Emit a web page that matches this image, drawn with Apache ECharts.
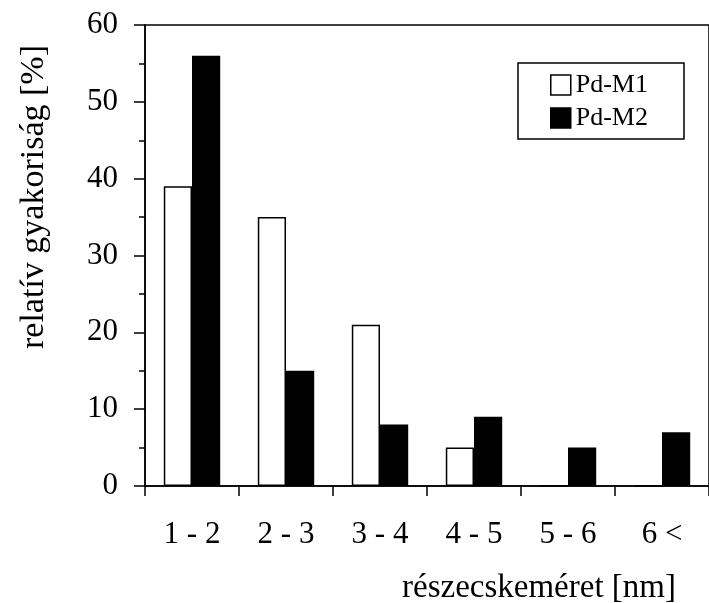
<!DOCTYPE html>
<html>
<head>
<meta charset="utf-8">
<title>Pd-M1 / Pd-M2 részecskeméret-eloszlás</title>
<script src="https://cdn.jsdelivr.net/npm/echarts@6/dist/echarts.min.js"></script>
<style>
  html, body { margin: 0; padding: 0; background: #fff; }
  #chart { width: 709px; height: 603px; }
</style>
</head>
<body>
<div id="chart"></div>
<script>
// Particle size classes (nm)
const categories = ['1 - 2', '2 - 3', '3 - 4', '4 - 5', '5 - 6', '6 <'];
// Relative frequency (%) per size class
const pdM1 = [39, 35, 21, 5, 0, 0];
const pdM2 = [56, 15, 8, 9, 5, 7];
const seriesNames = ['Pd-M1', 'Pd-M2'];
const yTicks = [0, 10, 20, 30, 40, 50, 60];

const serif = "'Liberation Serif', 'Times New Roman', serif";
const chart = echarts.init(document.getElementById('chart'), null, { renderer: 'canvas' });

chart.setOption({
  backgroundColor: '#ffffff',
  animation: false,
  grid: {
    left: 145, top: 25, width: 573, height: 461,
    show: true, borderColor: '#000', borderWidth: 1.5, backgroundColor: 'transparent'
  },
  legend: {
    orient: 'vertical',
    left: 518, top: 63,
    padding: [9, 36, 8, 32],
    itemWidth: 20, itemHeight: 20, itemGap: 7,
    itemStyle: { borderWidth: 1.5, borderColor: '#000' },
    borderColor: '#000', borderWidth: 1.5,
    icon: 'rect',
    textStyle: { fontFamily: serif, fontSize: 26, color: '#000', padding: [0, 0, 0, 0] },
    data: seriesNames
  },
  xAxis: {
    type: 'category',
    data: categories,
    boundaryGap: true,
    axisLine: { lineStyle: { color: '#000', width: 1.5 } },
    axisTick: { show: true, length: 10, lineStyle: { color: '#000', width: 1.5 } },
    axisLabel: { fontFamily: serif, fontSize: 31, color: '#000', margin: 33 },
    splitLine: { show: false }
  },
  yAxis: {
    type: 'value',
    min: yTicks[0], max: yTicks[yTicks.length - 1], interval: 10,
    axisLine: { show: true, lineStyle: { color: '#000', width: 1.5 } },
    axisTick: { show: true, length: 11, lineStyle: { color: '#000', width: 1.5 } },
    minorTick: { show: true, splitNumber: 2, length: 6, lineStyle: { color: '#000', width: 1.5 } },
    axisLabel: { fontFamily: serif, fontSize: 31, color: '#000', margin: 27 },
    splitLine: { show: false }
  },
  series: [
    {
      name: seriesNames[0], type: 'bar', data: pdM1,
      barGap: '0%', barCategoryGap: '40%',
      itemStyle: { color: '#fff', borderColor: '#000', borderWidth: 1.5 }
    },
    {
      name: seriesNames[1], type: 'bar', data: pdM2,
      barGap: '0%', barCategoryGap: '40%',
      itemStyle: { color: '#000', borderColor: '#000', borderWidth: 1.5 }
    }
  ],
  graphic: [
    {
      type: 'text', x: 34, y: 197, rotation: Math.PI / 2,
      style: {
        text: 'relatív gyakoriság [%]', fontFamily: serif, fontSize: 34, fill: '#000',
        align: 'center', verticalAlign: 'middle'
      }
    },
    {
      type: 'text', x: 539, y: 588,
      style: {
        text: 'részecskeméret [nm]', fontFamily: serif, fontSize: 33, fill: '#000',
        align: 'center', verticalAlign: 'middle'
      }
    }
  ]
});
</script>
</body>
</html>
